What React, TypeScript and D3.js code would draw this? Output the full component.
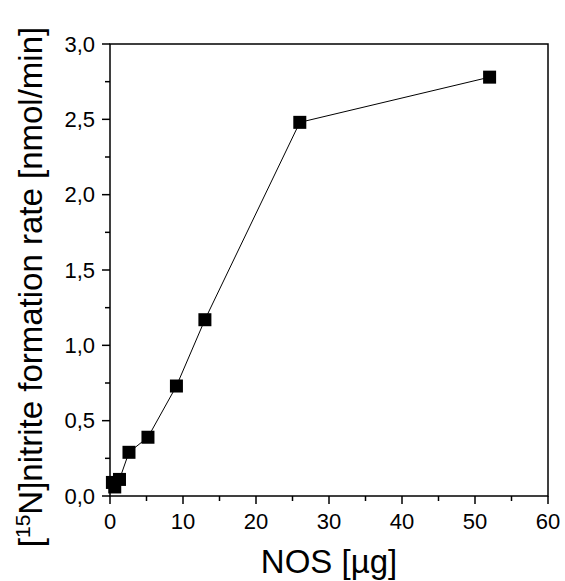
import * as d3 from 'd3';

// NOS amount (µg) and nitrite formation rate (nmol/min)
const nosAmount = [0.33, 0.65, 1.3, 2.6, 5.2, 9.1, 13, 26, 52];
const formationRate = [0.09, 0.06, 0.11, 0.29, 0.39, 0.73, 1.17, 2.48, 2.78];
const xTicks = [0, 10, 20, 30, 40, 50, 60];
const yTicks = [0, 0.5, 1.0, 1.5, 2.0, 2.5, 3.0];

const W = 565, H = 581;
const margin = { top: 44, right: 17, bottom: 85, left: 110 };

export default function App() {
  const width = W - margin.left - margin.right;
  const height = H - margin.top - margin.bottom;

  const x = d3.scaleLinear().domain([0, 60]).range([0, width]);
  const y = d3.scaleLinear().domain([0, 3]).range([height, 0]);

  const points = nosAmount.map((n, i) => ({ n, r: formationRate[i] }));
  const line = d3.line<{ n: number; r: number }>()
    .x(d => x(d.n))
    .y(d => y(d.r));

  const fmtY = (v: number) => v.toFixed(1).replace('.', ',');
  const xMinor = d3.range(5, 60, 10);
  const yMinor = d3.range(0.25, 3, 0.5);
  const sq = 13;

  return (
    <svg width={W} height={H} style={{ position: 'absolute', left: 0, top: 0, background: '#fff' }}
      fontFamily="'Liberation Sans', Arial, sans-serif">
      <g transform={`translate(${margin.left},${margin.top})`}>
        {/* frame */}
        <rect x={0} y={0} width={width} height={height} fill="none" stroke="#000" strokeWidth={1.5} />

        {/* x ticks */}
        {xTicks.map(t => (
          <g key={'x' + t} transform={`translate(${x(t)},${height})`}>
            <line y1={0} y2={8} stroke="#000" strokeWidth={1.5} />
            <text y={33} textAnchor="middle" fontSize={22}>{t}</text>
          </g>
        ))}
        {xMinor.map(t => (
          <line key={'xm' + t} x1={x(t)} x2={x(t)} y1={height} y2={height + 5} stroke="#000" strokeWidth={1.5} />
        ))}

        {/* y ticks */}
        {yTicks.map(t => (
          <g key={'y' + t} transform={`translate(0,${y(t)})`}>
            <line x1={0} x2={-8} stroke="#000" strokeWidth={1.5} />
            <text x={-15} dy="0.35em" textAnchor="end" fontSize={22}>{fmtY(t)}</text>
          </g>
        ))}
        {yMinor.map(t => (
          <line key={'ym' + t} x1={0} x2={-5} y1={y(t)} y2={y(t)} stroke="#000" strokeWidth={1.5} />
        ))}

        {/* data */}
        <path d={line(points) || ''} fill="none" stroke="#000" strokeWidth={1} />
        {points.map((p, i) => (
          <rect key={i} x={x(p.n) - sq / 2} y={y(p.r) - sq / 2} width={sq} height={sq} fill="#000" />
        ))}

        {/* axis titles */}
        <text x={width / 2} y={height + 77} textAnchor="middle" fontSize={33}>NOS [µg]</text>
        <text transform={`translate(${-68},${height / 2 + 17}) rotate(-90)`} textAnchor="middle" fontSize={33}>
          [<tspan dy={-12} fontSize={21}>15</tspan><tspan dy={12}>N]nitrite formation rate [nmol/min]</tspan>
        </text>
      </g>
    </svg>
  );
}
